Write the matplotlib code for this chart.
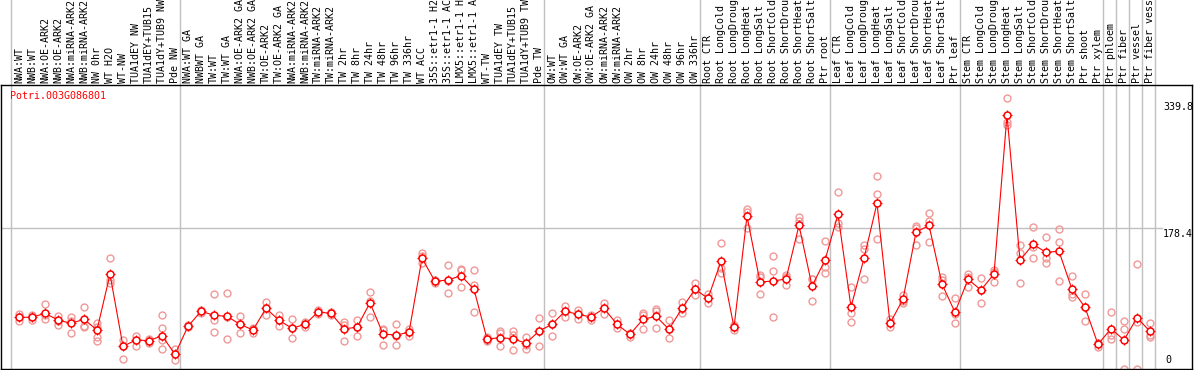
import numpy as np
import matplotlib.pyplot as plt

plt.rcParams['font.family'] = ['DejaVu Sans Mono']

gene = "Potri.003G086801"

samples = [
    "NWA:WT", "NWB:WT", "NWA:OE-ARK2", "NWB:OE-ARK2", "NWA:miRNA-ARK2", "NWB:miRNA-ARK2",
    "NW 0hr", "WT H2O", "WT-NW", "TUA1dEY NW", "TUA1dEY+TUB15", "TUA1dY+TUB9 NW", "Pde NW",
    "NWA:WT GA", "NWBWT GA", "TW:WT", "TW:WT GA", "NWA:OE-ARK2 GA", "NWB:OE-ARK2 GA",
    "TW:OE-ARK2", "TW:OE-ARK2 GA", "NWA:miRNA-ARK2", "NWB:miRNA-ARK2", "TW:miRNA-ARK2",
    "TW:miRNA-ARK2", "TW 2hr", "TW 8hr", "TW 24hr", "TW 48hr", "TW 96hr", "TW 336hr",
    "WT ACC", "35S::etr1-1 H2", "35S::etr1-1 AC", "LMX5::etr1-1 H", "LMX5::etr1-1 A",
    "WT-TW", "TUA1dEY TW", "TUA1dEY+TUB15", "TUA1dY+TUB9 TW", "Pde TW",
    "OW:WT", "OW:WT GA", "OW:OE-ARK2", "OW:OE-ARK2 GA", "OW:miRNA-ARK2", "OW:miRNA-ARK2",
    "OW 2hr", "OW 8hr", "OW 24hr", "OW 48hr", "OW 96hr", "OW 336hr",
    "Root CTR", "Root LongCold", "Root LongDroug", "Root LongHeat", "Root LongSalt",
    "Root ShortCold", "Root ShortDrou", "Root ShortHeat", "Root ShortSalt", "Ptr root",
    "Leaf CTR", "Leaf LongCold", "Leaf LongDroug", "Leaf LongHeat", "Leaf LongSalt",
    "Leaf ShortCold", "Leaf ShortDrou", "Leaf ShortHeat", "Leaf ShortSalt", "Ptr leaf",
    "Stem CTR", "Stem LongCold", "Stem LongDroug", "Stem LongHeat", "Stem LongSalt",
    "Stem ShortCold", "Stem ShortDrou", "Stem ShortHeat", "Stem ShortSalt", "Ptr shoot",
    "Ptr xylem", "Ptr phloem", "Ptr fiber", "Ptr vessel", "Ptr fiber vess",
]

# number of samples in each experiment block
group_sizes = [13, 28, 12, 10, 10, 11, 1, 1, 1, 1]

means = [
    65.2, 65.2, 70.2, 61.7, 57.5, 62.6, 49.0, 119.9, 28.2, 36.3, 35.4, 41.7, 18.1,
    53.7, 72.8, 67.7, 66.4, 56.2, 49.0, 76.6, 61.3, 51.2, 56.2, 71.9, 70.2,
    50.6, 52.4, 83.7, 43.9, 42.6, 46.1, 140.2, 111.0, 112.6, 118.1, 100.8,
    37.5, 39.2, 37.9, 32.1, 47.7,
    56.2, 72.8, 69.0, 65.5, 76.6, 56.2, 43.5, 62.6, 66.4, 49.9, 76.6, 100.8,
    89.3, 136.4, 52.4, 193.7, 110.1, 111.3, 113.9, 182.2, 105.0, 137.7,
    196.2, 78.3, 140.2, 210.2, 57.5, 88.1, 173.3, 182.2, 107.5, 71.5,
    113.5, 99.9, 120.3, 322.2, 137.7, 158.0, 147.9, 149.1, 100.8, 77.9, 30.8,
    50.6, 36.3, 64.6, 47.3,
]

replicates = [
    [69.4, 65.5, 60.1], [68.5, 65.5, 61.7], [82.1, 67.7, 63.4], [66.8, 60.4, 55.7],
    [65.9, 60.8, 45.6], [78.3, 54.1, 52.4], [57.5, 53.2, 40.5, 35.4], [140.2, 112.6, 109.2],
    [36.3, 28.6, 11.7], [41.4, 36.3, 29.0], [37.9, 35.4, 32.1], [67.7, 51.2, 36.3, 24.4],
    [25.2, 18.1, 10.8],
    [55.4, 53.7, 52.2], [74.4, 72.8, 71.0], [94.8, 61.7, 46.1], [96.1, 65.9, 37.2],
    [66.8, 56.2, 45.6], [51.2, 50.3, 45.6], [84.6, 77.0, 67.7], [67.7, 61.7, 54.1],
    [62.6, 51.5, 38.4], [59.2, 56.2, 53.4], [74.4, 71.9, 69.4], [72.5, 70.2, 68.1],
    [59.6, 55.4, 34.6], [61.7, 53.2, 41.7], [97.0, 86.3, 65.2], [50.6, 49.0, 29.5],
    [56.6, 41.7, 29.5], [50.3, 46.1, 41.7], [146.6, 143.5, 133.9], [112.6, 111.0, 108.4],
    [131.3, 111.7, 95.7], [126.2, 125.0, 103.3], [125.0, 106.6, 71.9], [40.5, 37.5, 35.4],
    [48.1, 45.2, 28.2], [48.1, 43.0, 23.2], [40.5, 29.9, 24.8], [64.6, 47.7, 28.2],
    [70.2, 56.2, 41.0], [79.5, 72.8, 65.9], [74.4, 69.0, 63.4], [67.7, 65.5, 61.7],
    [83.7, 76.6, 69.4], [61.7, 56.2, 51.5], [44.8, 43.5, 40.5], [70.2, 67.7, 49.9],
    [76.1, 73.6, 51.2], [61.7, 49.9, 38.4], [84.2, 75.3, 71.0], [108.4, 100.8, 93.1],
    [94.8, 89.3, 83.7], [159.3, 127.5, 121.9], [55.4, 52.4, 49.0], [202.6, 199.5, 178.4],
    [119.0, 116.1, 94.8], [143.2, 123.7, 65.2], [119.0, 116.8, 105.9], [193.2, 188.1, 165.2],
    [114.3, 113.5, 86.3], [161.9, 129.5, 121.9],
    [224.2, 184.8, 180.4], [103.3, 70.2, 58.8], [157.5, 151.7, 113.5], [244.6, 221.7, 164.4],
    [62.6, 57.5, 53.2], [93.9, 86.3, 83.0], [181.3, 178.4, 157.2], [197.5, 188.1, 160.6],
    [116.8, 112.6, 92.3], [89.3, 69.4, 57.5],
    [120.3, 116.8, 104.1], [114.8, 99.9, 83.7], [125.3, 123.2, 109.7], [343.8, 314.1, 309.9],
    [157.2, 146.6, 108.4], [179.7, 154.2, 140.2], [167.0, 140.2, 133.9], [177.1, 160.6, 111.0],
    [117.7, 94.8, 91.4], [94.4, 77.9, 60.4], [32.8, 32.1, 27.0],
    [71.9, 42.6, 37.2], [60.4, 49.9, 0.0], [133.0, 59.6, 0.0], [57.5, 42.6, 40.5],
]

y_ticks = [0, 178.4, 339.8]

W, H = 1194, 370
fig = plt.figure(figsize=(W / 100, H / 100), dpi=100)
top_px, bot_px, left_px, right_px = 85, 368.5, 1, 1192
ax = fig.add_axes([left_px / W, (H - bot_px) / H, (right_px - left_px) / W, (bot_px - top_px) / H])

n = len(samples)
x = np.arange(n)
# 13 px per sample, first sample 18 px from the left border
ax.set_xlim(-18 / 13, -18 / 13 + (right_px - left_px) / 13)
ax.set_ylim(0, (bot_px - top_px) * 178.4 / 140.2)

for s in ax.spines.values():
    s.set_color('black')
    s.set_linewidth(1.0)
ax.set_xticks([])
ax.set_yticks([])

grid_c = '#c0c0c0'
fig_top = (bot_px - 0) / (bot_px - top_px)
bounds = [-0.62] + list(np.cumsum(group_sizes) - 0.615)
for b in bounds:
    ax.axvline(b, ymin=0, ymax=fig_top, color=grid_c, lw=1.0, clip_on=False, zorder=0)
ax.axhline(178.4, xmin=0, xmax=(1162 - left_px) / (right_px - left_px), color=grid_c, lw=1.0, zorder=0)

# replicates
rep_c = '#f09898'
for i, reps in enumerate(replicates):
    ax.plot([i] * len(reps), reps, 'o', ms=5.0, mfc='none', mec=rep_c, mew=1.0,
            zorder=2, clip_on=False)

# means
ax.plot(x, means, '-', color='red', lw=0.8, zorder=3)
ax.plot(x, means, '+', ms=7.5, color='red', mew=0.8, zorder=4)
ax.plot(x, means, 'o', ms=5.0, mfc='white', mec='red', mew=1.1, zorder=5)

# sample labels in the header
for i, lab in enumerate(samples):
    ax.text(i, (bot_px - 83) / (bot_px - top_px), lab, transform=ax.get_xaxis_transform(),
            rotation=90, ha='center', va='bottom', fontsize=7.2, color='black', clip_on=False)

ax.text((10 - left_px) / (right_px - left_px), (bot_px - 96) / (bot_px - top_px), gene,
        transform=ax.transAxes, ha='left', va='center', fontsize=7.2, color='red')

for v in y_ticks:
    if v == 0:
        ax.text(88.2, v + 4, "0", ha='left', va='bottom', fontsize=7.2)
    else:
        ax.text(88.0, v - 1, f"{v:.1f}", ha='left', va='top', fontsize=7.2)

fig.savefig('out.png', dpi=100)
